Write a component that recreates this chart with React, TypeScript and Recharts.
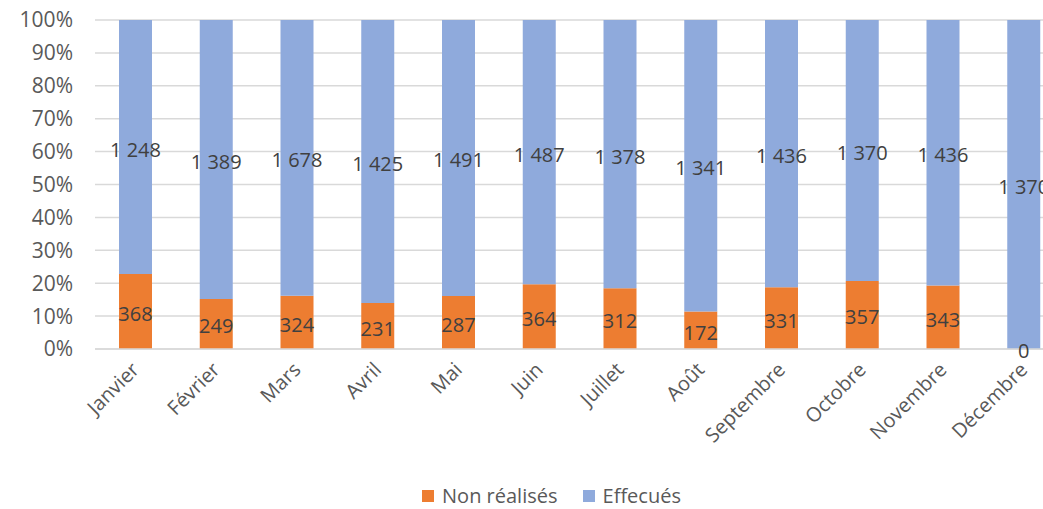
import React from "react";
import {
  BarChart, Bar, XAxis, YAxis, CartesianGrid, Legend, LabelList,
} from "recharts";

const months = [
  "Janvier", "Février", "Mars", "Avril", "Mai", "Juin",
  "Juillet", "Août", "Septembre", "Octobre", "Novembre", "Décembre",
];
const nonRealises = [368, 249, 324, 231, 287, 364, 312, 172, 331, 357, 343, 0];
const effectues = [1248, 1389, 1678, 1425, 1491, 1487, 1378, 1341, 1436, 1370, 1436, 1370];
const yTicks = [0, 0.1, 0.2, 0.3, 0.4, 0.5, 0.6, 0.7, 0.8, 0.9, 1];
const seriesNames = ["Non réalisés", "Effecués"];

const ORANGE = "#ED7D31";
const BLUE = "#8FAADC";
const FONT = "'Open Sans', sans-serif";

const data = months.map((m, i) => ({
  month: m,
  non: nonRealises[i],
  eff: effectues[i],
}));

const fmt = (v: any) => String(v).replace(/\B(?=(\d{3})+(?!\d))/g, " ");

function MonthTick({ x, y, payload }: any) {
  const tx = x + 5;
  const ty = y + 14;
  return (
    <text
      x={tx}
      y={ty}
      transform={`rotate(-45, ${tx}, ${ty})`}
      textAnchor="end"
      fill="#595959"
      fontSize={20}
      fontFamily={FONT}
    >
      {payload.value}
    </text>
  );
}

const labelText = (cx: number, cy: number, v: any, key?: string) => (
  <text
    key={key}
    x={cx}
    y={cy + 2}
    textAnchor="middle"
    dominantBaseline="central"
    fill="#404040"
    fontSize={20}
    fontFamily={FONT}
  >
    {fmt(v)}
  </text>
);

const boxOf = (props: any) =>
  props.viewBox && props.viewBox.width != null ? props.viewBox : props;

const renderNonLabel = (props: any) => {
  const b = boxOf(props);
  return labelText(b.x + b.width / 2, b.y + b.height / 2, props.value);
};

// zero-height orange segments get no label of their own, so the blue bar
// also draws the orange value at its base when that value is 0
const renderEffLabel = (props: any) => {
  const b = boxOf(props);
  const cx = b.x + b.width / 2;
  const non = nonRealises[props.index];
  return (
    <g>
      {labelText(cx, b.y + b.height / 2, props.value)}
      {non === 0 ? labelText(cx, b.y + b.height - 1, non) : null}
    </g>
  );
};

const LegendContent = () => (
  <div style={{ display: "flex", justifyContent: "center", alignItems: "center", fontFamily: FONT, fontSize: 20, lineHeight: "27px", color: "#595959", paddingLeft: 24 }}>
    {seriesNames.map((n, i) => (
      <span key={n} style={{ display: "flex", alignItems: "center", marginLeft: i ? 25 : 0 }}>
        <span style={{ width: 12, height: 12, background: i ? BLUE : ORANGE, marginRight: 8, display: "inline-block" }} />
        {n}
      </span>
    ))}
  </div>
);

export default function App() {
  return (
    <div style={{ position: "absolute", left: 0, top: 0, width: 1043, height: 509, overflow: "hidden", background: "#fff" }}>
      <BarChart
        width={1102}
        height={509}
        data={data}
        stackOffset="expand"
        margin={{ top: 20, right: 38, left: 15, bottom: 0 }}
      >
        <CartesianGrid vertical={false} stroke="#D9D9D9" strokeWidth={1.5} />
        <XAxis
          dataKey="month"
          tick={<MonthTick />}
          tickLine={false}
          axisLine={{ stroke: "#D9D9D9", strokeWidth: 1.5 }}
          interval={0}
          height={133}
        />
        <YAxis
          ticks={yTicks}
          domain={[0, 1]}
          tickFormatter={(v) => `${Math.round(v * 100)}%`}
          tick={{ fill: "#595959", fontSize: 21, fontFamily: FONT, dx: -14 }}
          axisLine={false}
          tickLine={false}
          width={80}
        />
        <Legend verticalAlign="bottom" content={<LegendContent />} wrapperStyle={{ height: 27, bottom: 0 }} />
        <Bar dataKey="non" name={seriesNames[0]} stackId="a" fill={ORANGE} barSize={33} isAnimationActive={false}>
          <LabelList dataKey="non" content={renderNonLabel} />
        </Bar>
        <Bar dataKey="eff" name={seriesNames[1]} stackId="a" fill={BLUE} barSize={33} isAnimationActive={false}>
          <LabelList dataKey="eff" content={renderEffLabel} />
        </Bar>
      </BarChart>
    </div>
  );
}
